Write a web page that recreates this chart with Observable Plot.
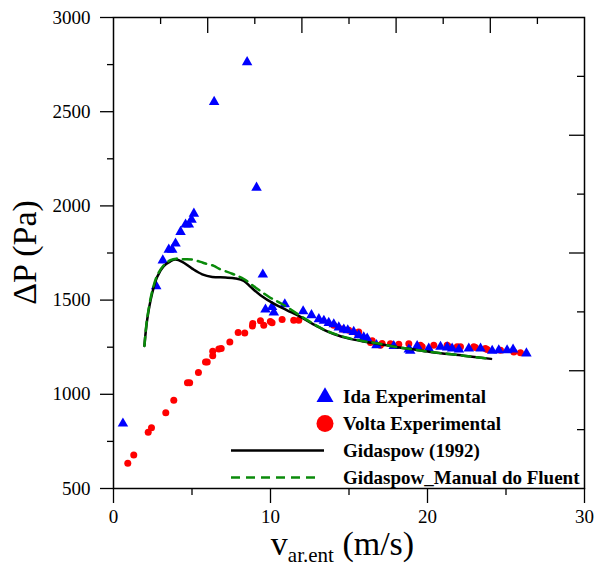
<!DOCTYPE html>
<html>
<head>
<meta charset="utf-8">
<script src="https://cdn.jsdelivr.net/npm/d3@7"></script>
<script src="https://cdn.jsdelivr.net/npm/@observablehq/plot@0.6"></script>
<style>
  html, body { margin: 0; padding: 0; background: white; }
  #chart { width: 595px; height: 572px; }
</style>
</head>
<body>
<div id="chart"></div>
<script>
// ---- Data ----
const idaX = [0.6, 2.72, 3.14, 3.52, 3.74, 3.95, 4.27, 4.59, 4.80, 4.97, 5.12, 6.41, 8.51, 9.11, 9.51, 9.68, 10.1, 10.21, 10.91, 12.08, 12.61, 13.08, 13.4, 13.71, 14.03, 14.35, 14.67, 14.92, 15.3, 15.62, 15.94, 16.16, 16.75, 17.85, 18.81, 18.9, 19.34, 20.08, 20.83, 21.25, 21.57, 22.0, 22.63, 23.38, 24.12, 24.54, 25.07, 25.45, 26.3];
const idaY = [845, 1574, 1711, 1768, 1768, 1800, 1862, 1901, 1901, 1927, 1959, 2552, 2763, 2097, 1636, 1450, 1464, 1434, 1478, 1441, 1420, 1399, 1390, 1379, 1372, 1355, 1344, 1340, 1331, 1314, 1302, 1296, 1261, 1256, 1238, 1231, 1256, 1243, 1252, 1249, 1243, 1238, 1243, 1243, 1231, 1234, 1234, 1238, 1217];

const voltaX = [0.91, 1.29, 2.21, 2.42, 3.33, 3.84, 4.71, 4.85, 5.41, 5.86, 5.97, 6.32, 6.32, 6.71, 6.86, 7.41, 7.94, 8.36, 8.85, 8.87, 9.36, 9.57, 9.99, 10.1, 10.74, 11.48, 11.8, 14.03, 14.57, 14.99, 15.52, 15.62, 16.37, 16.48, 17.0, 17.11, 17.64, 18.17, 18.81, 19.55, 19.66, 20.4, 21.25, 21.36, 21.89, 22.1, 22.95, 23.05, 23.69, 23.8, 24.65, 25.5, 25.92];
const voltaY = [634, 678, 798, 822, 902, 968, 1061, 1061, 1116, 1172, 1172, 1204, 1229, 1240, 1243, 1278, 1328, 1326, 1362, 1376, 1390, 1367, 1387, 1380, 1397, 1393, 1393, 1367, 1346, 1340, 1326, 1331, 1275, 1284, 1261, 1270, 1268, 1266, 1268, 1261, 1252, 1261, 1261, 1252, 1252, 1252, 1252, 1249, 1243, 1238, 1234, 1225, 1221];

const gidX = [1.97, 2.14, 2.46, 2.78, 3.2, 3.63, 3.95, 4.38, 5.01, 5.65, 6.29, 7.13, 7.77, 8.3, 8.73, 9.36, 10.21, 11.06, 11.91, 12.76, 13.4, 14.03, 14.88, 15.94, 17.0, 18.07, 18.92, 20.19, 22.3, 24.05];
const gidY = [1257, 1393, 1535, 1623, 1680, 1706, 1715, 1703, 1667, 1637, 1623, 1620, 1615, 1602, 1570, 1526, 1481, 1446, 1411, 1370, 1342, 1320, 1298, 1280, 1266, 1250, 1240, 1225, 1205, 1188];

const fluentX = [1.97, 2.14, 2.46, 2.78, 3.2, 3.63, 4.0, 4.48, 5.01, 5.54, 5.86, 6.39, 6.71, 7.56, 8.3, 9.04, 9.89, 10.85, 11.91, 12.76, 13.4, 14.03, 14.88, 15.94, 17.0, 18.07, 18.92, 20.19, 22.3, 24.05];
const fluentY = [1257, 1400, 1545, 1630, 1685, 1712, 1720, 1717, 1715, 1703, 1694, 1682, 1667, 1640, 1612, 1567, 1518, 1474, 1416, 1373, 1344, 1322, 1300, 1282, 1268, 1250, 1240, 1225, 1205, 1188];

const seriesNames = ["Ida Experimental", "Volta Experimental", "Gidaspow (1992)", "Gidaspow_Manual do Fluent"];
const xLabelMain = "v", xLabelSub = "ar.ent", xLabelUnit = " (m/s)";
const yLabel = "ΔP (Pa)";

const xMajorTicks = [0, 10, 20, 30];
const xMinorTicks = [5, 15, 25];
const yMajorTicks = [500, 1000, 1500, 2000, 2500, 3000];
const yMinorTicks = [750, 1250, 1750, 2250, 2750];
const topMajorTicks = [6, 12, 18, 24];
const topMinorTicks = [3, 9, 15, 21, 27];
const rightMajorTicks = [1125, 1750, 2375];
const rightMinorTicks = [812.5, 1437.5, 2062.5, 2687.5];

// ---- Tables ----
const zip = (xs, ys) => xs.map((x, i) => ({x, y: ys[i]}));
const ida = zip(idaX, idaY);
const volta = zip(voltaX, voltaY);
const gid = zip(gidX, gidY);
const fluent = zip(fluentX, fluentY);

const W = 595, H = 572;
const M = {top: 17, right: 11, bottom: 84, left: 113};
const FW = W - M.left - M.right, FH = H - M.top - M.bottom;
const GREEN = "#0a8a0a";
const FONT = "Liberation Serif, Times New Roman, serif";

function overlay(index, scales, values, dims) {
  const g = d3.create("svg:g").attr("font-family", FONT).attr("fill", "black").attr("text-anchor", "start");
  const cx = (dims.marginLeft + dims.width - dims.marginRight) / 2;
  const cy = (dims.marginTop + dims.height - dims.marginBottom) / 2;
  // y label
  g.append("text")
    .attr("transform", `translate(24,${cy}) rotate(-90)`)
    .attr("text-anchor", "middle").attr("dy", "0.35em")
    .attr("font-size", 34).text(yLabel);
  // x label
  const xl = g.append("text").attr("x", cx - 6).attr("y", 555)
    .attr("text-anchor", "middle").attr("font-size", 34);
  xl.append("tspan").text(xLabelMain);
  xl.append("tspan").attr("font-size", 21).attr("dy", 7).text(xLabelSub);
  xl.append("tspan").attr("dy", -7).text(xLabelUnit);
  // legend
  const lx = 343, sx = 325;
  const rows = [396, 423.5, 450.5, 477.5];
  const lg = g.append("g").attr("font-weight", "bold").attr("font-size", 19).attr("text-anchor", "start");
  lg.append("path").attr("transform", `translate(${sx},${rows[0] + 1})`)
    .attr("d", d3.symbol(d3.symbolTriangle, 125)()).attr("fill", "blue");
  lg.append("circle").attr("cx", sx).attr("cy", rows[1]).attr("r", 8.5).attr("fill", "red");
  lg.append("line").attr("x1", 231).attr("x2", 324).attr("y1", rows[2]).attr("y2", rows[2])
    .attr("stroke", "black").attr("stroke-width", 2.5);
  lg.append("line").attr("x1", 231).attr("x2", 318).attr("y1", rows[3]).attr("y2", rows[3])
    .attr("stroke", GREEN).attr("stroke-width", 2.5).attr("stroke-dasharray", "9,6");
  seriesNames.forEach((s, i) => {
    lg.append("text").attr("x", lx).attr("y", rows[i]).attr("dy", "0.35em")
      .attr("text-anchor", "start").text(s);
  });
  return g.node();
}

const fmt = d => String(d);

const chart = Plot.plot({
  width: W, height: H,
  marginTop: M.top, marginRight: M.right, marginBottom: M.bottom, marginLeft: M.left,
  style: {fontFamily: FONT, fontSize: "19px", color: "black", background: "white", overflow: "visible"},
  x: {domain: [0, 30]},
  y: {domain: [500, 3000]},
  marks: [
    Plot.axisX(xMajorTicks, {tickSize: 15, tickPadding: 6, tickFormat: fmt, label: null, fontSize: 19, fontFamily: FONT, strokeWidth: 1.3}),
    Plot.axisX(xMinorTicks, {tickSize: 7, tickFormat: () => "", label: null, strokeWidth: 1.3}),
    Plot.axisY(yMajorTicks, {tickSize: 13, tickPadding: 10, tickFormat: fmt, label: null, fontSize: 19, fontFamily: FONT, strokeWidth: 1.3}),
    Plot.axisY(yMinorTicks, {tickSize: 6, tickFormat: () => "", label: null, strokeWidth: 1.3}),
    Plot.tickX(topMajorTicks, {x: d => d, insetBottom: FH - 16, stroke: "black", strokeWidth: 1.3}),
    Plot.tickX(topMinorTicks, {x: d => d, insetBottom: FH - 7, stroke: "black", strokeWidth: 1.3}),
    Plot.tickY(rightMajorTicks, {y: d => d, insetLeft: FW - 15, stroke: "black", strokeWidth: 1.3}),
    Plot.tickY(rightMinorTicks, {y: d => d, insetLeft: FW - 7, stroke: "black", strokeWidth: 1.3}),
    Plot.frame({stroke: "black", strokeWidth: 1.5}),
    Plot.dot(volta, {x: "x", y: "y", r: 3.5, fill: "red", stroke: "none"}),
    Plot.dot(ida, {x: "x", y: "y", r: 3.9, symbol: "triangle", fill: "blue", stroke: "none"}),
    Plot.line(gid, {x: "x", y: "y", stroke: "black", strokeWidth: 2.5, curve: "catmull-rom"}),
    Plot.line(fluent, {x: "x", y: "y", stroke: GREEN, strokeWidth: 2.5, strokeDasharray: "9,6", curve: "catmull-rom"}),
    overlay
  ]
});
document.getElementById("chart").appendChild(chart);
</script>
</body>
</html>
